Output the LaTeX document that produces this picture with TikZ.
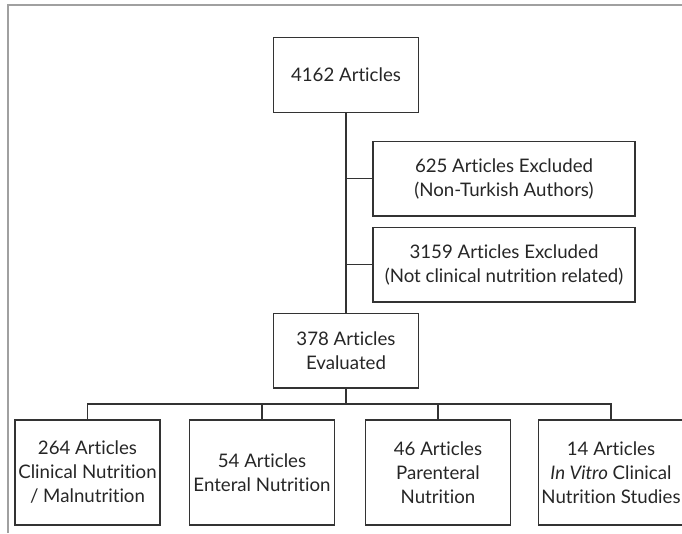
\documentclass[tikz,border=0pt]{standalone}
\usepackage{fontspec}
\setmainfont{Lato}[Ligatures=NoCommon]
\usetikzlibrary{positioning}
\definecolor{boxline}{HTML}{333333}
\definecolor{frameline}{HTML}{A0A0A0}
\tikzset{
    article/.style={draw=boxline, line width=1pt, align=center, inner sep=0pt,
        minimum width=108.75pt, minimum height=56pt, text=black!85,
        font=\fontsize{14}{18}\selectfont},
    wide/.style={minimum width=196.5pt},
    tall/.style={minimum height=78.75pt},
    link/.style={draw=boxline, line width=1pt}
}
\begin{document}
\begin{tikzpicture}[x=0.75pt,y=-0.75pt]
    \useasboundingbox (0,0) rectangle (682,533);
    \draw[frameline, line width=1.5pt] (8,533) -- (8,5) -- (682,5);
    \node[article] (total) at (346,75) {4162 Articles};
    \node[article, wide] (nonturk) at (504,178.5) {625 Articles Excluded\\(Non-Turkish Authors)};
    \node[article, wide, below=7.5pt of nonturk] (nonclin) {3159 Articles Excluded\\(Not clinical nutrition related)};
    \node[article] (evaluated) at (346,350.5) {378 Articles\\Evaluated};
    \node[article, tall] (clinical) at (87.5,472.5) {264 Articles\\Clinical Nutrition\\/ Malnutrition};
    \node[article, tall] (enteral) at (262,472.5) {54 Articles\\Enteral Nutrition};
    \node[article, tall] (parenteral) at (438,472.5) {46 Articles\\Parenteral\\Nutrition};
    \node[article, tall] (invitro) at (611,472.5) {14 Articles\\\textit{In Vitro} Clinical\\Nutrition Studies};
    \coordinate (bus) at (346,404);
    \draw[link] (total.south) -- (evaluated.north);
    \draw[link] (nonturk.west) -- (nonturk.west -| total.south);
    \draw[link] (nonclin.west) -- (nonclin.west -| total.south);
    \draw[link] (evaluated.south) -- (bus);
    \draw[link] (clinical.north) |- (bus) -| (invitro.north);
    \draw[link] (enteral.north) -- (enteral.north |- bus);
    \draw[link] (parenteral.north) -- (parenteral.north |- bus);
\end{tikzpicture}
\end{document}
